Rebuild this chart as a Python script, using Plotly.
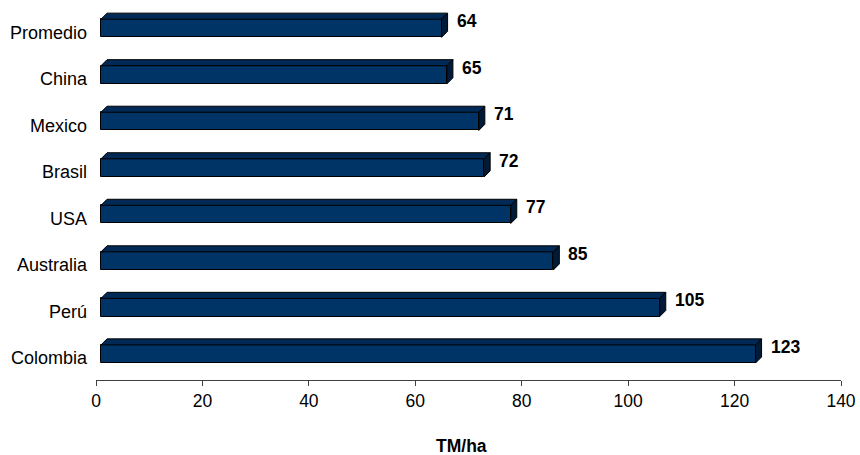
import plotly.graph_objects as go

# Yield by country (TM/ha), listed bottom to top
countries = ["Colombia", "Perú", "Australia", "USA", "Brasil", "Mexico", "China", "Promedio"]
yields = [123, 105, 85, 77, 72, 71, 65, 64]

# 3D look: front face shifted right, plus a slanted top face and an end face
FONT = "Arial, Liberation Sans, sans-serif"
FRONT = "#003366"
TOP = "#002a55"
SIDE = "#001a38"
bar_w = 0.39          # thickness of the front face (category units)
x_off = 0.94          # front face shift in x units
dx = 1.13             # depth in x units
dy = 0.13             # depth in category units

pos = list(range(len(countries)))

fig = go.Figure()

# top faces
tx, ty = [], []
for p, v in zip(pos, yields):
    top = p + bar_w / 2
    tx += [x_off, x_off + v, x_off + v + dx, x_off + dx, x_off, None]
    ty += [top, top, top + dy, top + dy, top, None]
fig.add_trace(go.Scatter(x=tx, y=ty, mode="lines", fill="toself", fillcolor=TOP,
                         line=dict(color="black", width=1), hoverinfo="skip",
                         showlegend=False))

# end faces
sx, sy = [], []
for p, v in zip(pos, yields):
    top = p + bar_w / 2
    bot = p - bar_w / 2
    sx += [x_off + v, x_off + v + dx, x_off + v + dx, x_off + v, x_off + v, None]
    sy += [bot, bot + dy, top + dy, top, bot, None]
fig.add_trace(go.Scatter(x=sx, y=sy, mode="lines", fill="toself", fillcolor=SIDE,
                         line=dict(color="black", width=1), hoverinfo="skip",
                         showlegend=False))

# front faces
fig.add_trace(go.Bar(x=yields, y=pos, base=x_off, orientation="h", width=bar_w,
                     marker=dict(color=FRONT, line=dict(color="black", width=1)),
                     showlegend=False))

# value labels
for p, v in zip(pos, yields):
    fig.add_annotation(x=v, y=p, text=f"<b>{v}</b>", showarrow=False,
                       xanchor="left", yanchor="middle", xshift=18, yshift=7,
                       font=dict(family=FONT, size=17.5, color="black"))

# axis title
fig.add_annotation(xref="paper", yref="paper", x=0.491, y=0, yshift=-66,
                   text="<b>TM/ha</b>", showarrow=False, xanchor="center",
                   yanchor="middle", font=dict(family=FONT, size=17.5, color="black"))

fig.update_layout(
    width=860, height=455,
    margin=dict(l=96, r=19, t=5, b=75),
    paper_bgcolor="white", plot_bgcolor="white",
    font=dict(family=FONT, size=17.5, color="black"),
    bargap=0,
)
fig.update_xaxes(range=[0, 140], tickvals=[0, 20, 40, 60, 80, 100, 120, 140],
                 showgrid=False, zeroline=False, showline=True, linecolor="#404040",
                 linewidth=1, ticks="outside", ticklen=5, tickcolor="#404040",
                 tickfont=dict(family=FONT, size=17.5, color="black"))
fig.update_yaxes(range=[-0.559, 7.5], tickvals=[p - 0.086 for p in pos],
                 ticktext=countries, showgrid=False, zeroline=False, showline=False,
                 ticks="", ticklabelstandoff=8,
                 tickfont=dict(family=FONT, size=18, color="black"))

fig.write_html("out.html")
